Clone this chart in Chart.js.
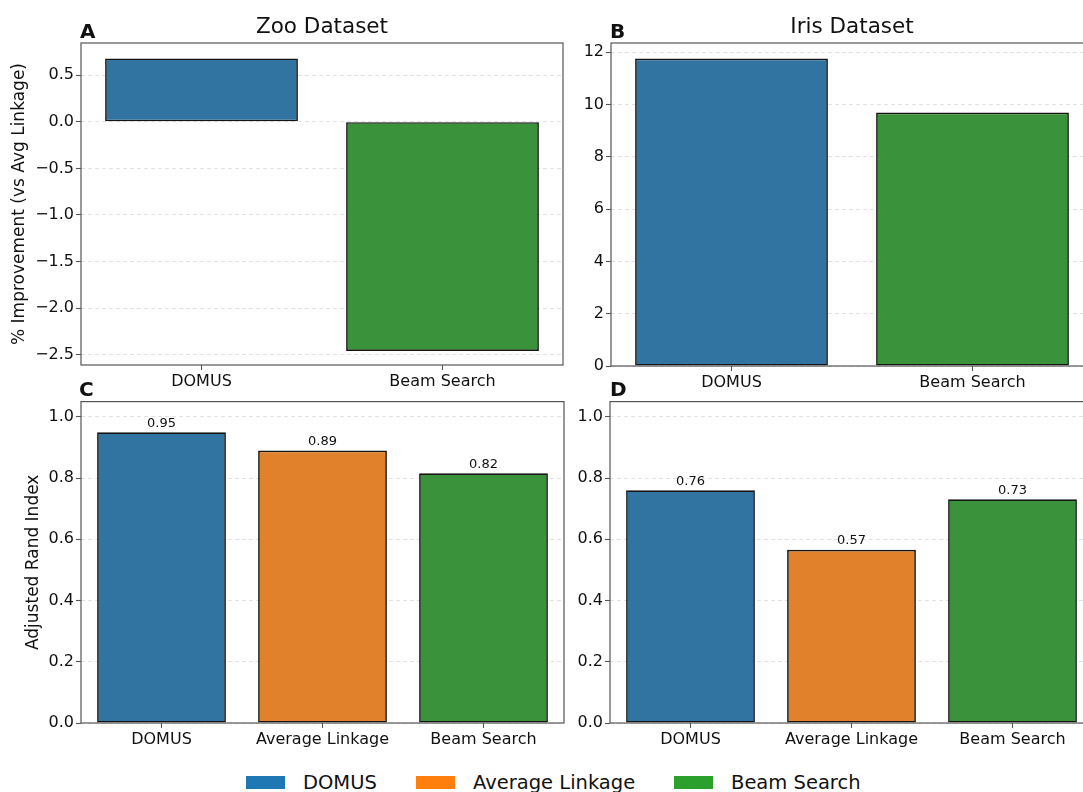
<!DOCTYPE html>
<html>
<head>
<meta charset="utf-8">
<script src="https://cdn.jsdelivr.net/npm/chart.js@4.4.1/dist/chart.umd.min.js"></script>
<style>
  html, body { margin: 0; padding: 0; background: #fff; }
  #fig { position: relative; width: 1083px; height: 792px; overflow: hidden; font-family: 'DejaVu Sans', sans-serif; color: #111; }
  #fig canvas { position: absolute; }
  .txt { position: absolute; line-height: 1; white-space: nowrap; }
  .letter { font-weight: bold; font-size: 20px; }
  .title { font-size: 21.5px; transform: translateX(-50%); }
  .swatch { position: absolute; width: 39px; height: 13px; }
  .leg { font-size: 19.5px; }
</style>
</head>
<body>
<div id="fig">
  <canvas id="chartA" width="580" height="390" style="left:0;top:0"></canvas>
  <canvas id="chartB" width="560" height="390" style="left:560px;top:0"></canvas>
  <canvas id="chartC" width="580" height="370" style="left:0;top:390px"></canvas>
  <canvas id="chartD" width="560" height="370" style="left:560px;top:390px"></canvas>

  <div class="txt letter" style="left:80px;top:21px">A</div>
  <div class="txt letter" style="left:610px;top:21px">B</div>
  <div class="txt letter" style="left:79px;top:379px">C</div>
  <div class="txt letter" style="left:610px;top:379px">D</div>
  <div class="txt title" style="left:322px;top:15px">Zoo Dataset</div>
  <div class="txt title" style="left:852px;top:15px">Iris Dataset</div>

  <div id="legend"></div>
</div>
<script>
// panel A/B: % improvement vs average linkage
const improvementMethods = ['DOMUS', 'Beam Search'];
const zooImprovement = [0.68, -2.46];
const irisImprovement = [11.76, 9.69];

// panel C/D: adjusted rand index
const ariMethods = ['DOMUS', 'Average Linkage', 'Beam Search'];
const zooAri = [0.95, 0.89, 0.816];
const irisAri = [0.76, 0.566, 0.731];

// y ticks and limits
const zooImpTicks = [-2.5, -2.0, -1.5, -1.0, -0.5, 0.0, 0.5];
const zooImpRange = [-2.61, 0.845];
const irisImpTicks = [0, 2, 4, 6, 8, 10, 12];
const irisImpRange = [0, 12.35];
const ariTicks = [0.0, 0.2, 0.4, 0.6, 0.8, 1.0];
const ariRange = [0, 1.05];

const barColors = { 'DOMUS': '#3274a1', 'Average Linkage': '#e1812c', 'Beam Search': '#3a923a' };
const legendColors = { 'DOMUS': '#1f77b4', 'Average Linkage': '#ff7f0e', 'Beam Search': '#2ca02c' };

Chart.defaults.font.family = "'DejaVu Sans', sans-serif";
Chart.defaults.color = '#111';

const frame = {
    id: 'frame',
    afterDraw(chart) {
        const { ctx, chartArea: a } = chart;
        ctx.save();
        ctx.strokeStyle = '#555';
        ctx.lineWidth = 1.2;
        ctx.strokeRect(a.left, a.top, a.right - a.left, a.bottom - a.top);
        ctx.restore();
    }
};

// numbers above the bars (panels C and D)
const valueLabels = {
    id: 'valueLabels',
    afterDatasetsDraw(chart) {
        const { ctx } = chart;
        const vals = chart.data.datasets[0].data;
        ctx.save();
        ctx.font = "13px 'DejaVu Sans'";
        ctx.fillStyle = '#111';
        ctx.textAlign = 'center';
        ctx.textBaseline = 'alphabetic';
        chart.getDatasetMeta(0).data.forEach((bar, i) => {
            ctx.fillText(vals[i].toFixed(2), bar.x, bar.y - 5.5);
        });
        ctx.restore();
    }
};

function fmt(v, dec) {
    return (v < -1e-9 ? '\u2212' : '') + Math.abs(v).toFixed(dec);
}

function barChart(id, labels, values, ticks, range, opts) {
    return new Chart(document.getElementById(id), {
        type: 'bar',
        data: {
            labels: labels,
            datasets: [{
                data: values,
                backgroundColor: labels.map((l) => barColors[l]),
                borderColor: '#151515',
                borderWidth: 1.7,
                borderSkipped: false,
                barPercentage: 0.8,
                categoryPercentage: 1,
            }],
        },
        options: {
            responsive: false,
            animation: false,
            devicePixelRatio: 1,
            layout: { padding: { left: 0, top: opts.top, right: opts.right, bottom: 0 } },
            plugins: { legend: { display: false }, tooltip: { enabled: false } },
            scales: {
                x: {
                    offset: true,
                    grid: { offset: false, drawOnChartArea: false, tickLength: 5, tickColor: '#555', tickWidth: 1.1 },
                    border: { display: false },
                    ticks: { font: { size: 16 }, color: '#111', padding: 2, maxRotation: 0, autoSkip: false },
                    afterFit: (s) => { s.height = opts.xh; },
                },
                y: {
                    min: range[0],
                    max: range[1],
                    afterBuildTicks: (s) => { s.ticks = ticks.map((v) => ({ value: v })); },
                    grid: { color: 'rgba(0,0,0,0.15)', lineWidth: 0.8, tickLength: 5, tickColor: '#555', tickWidth: 1.1 },
                    border: { display: false, dash: [4, 3] },
                    ticks: { font: { size: 16 }, color: '#111', padding: 2, callback: (v) => fmt(v, opts.dec) },
                    title: opts.ytitle
                        ? { display: true, text: opts.ytitle, font: { size: 17 }, color: '#111', padding: { top: opts.tpad, bottom: 0 } }
                        : { display: false },
                    afterFit: (s) => { s.width = opts.yw; },
                },
            },
        },
        plugins: opts.values ? [frame, valueLabels] : [frame],
    });
}

barChart('chartA', improvementMethods, zooImprovement, zooImpTicks, zooImpRange,
    { top: 43, right: 17, xh: 25, yw: 81, dec: 1, ytitle: '% Improvement (vs Avg Linkage)', tpad: 9 });
barChart('chartB', improvementMethods, irisImprovement, irisImpTicks, irisImpRange,
    { top: 43, right: 27, xh: 24, yw: 51, dec: 0 });
barChart('chartC', ariMethods, zooAri, ariTicks, ariRange,
    { top: 11, right: 16, xh: 37, yw: 81, dec: 1, ytitle: 'Adjusted Rand Index', tpad: 23, values: true });
barChart('chartD', ariMethods, irisAri, ariTicks, ariRange,
    { top: 11, right: 27, xh: 37, yw: 50, dec: 1, values: true });

// shared legend at the bottom
const legendX = [246, 416, 674];
const legend = document.getElementById('legend');
ariMethods.forEach((name, i) => {
    const sw = document.createElement('div');
    sw.className = 'swatch';
    sw.style.left = legendX[i] + 'px';
    sw.style.top = '776px';
    sw.style.background = legendColors[name];
    legend.appendChild(sw);
    const t = document.createElement('div');
    t.className = 'txt leg';
    t.style.left = (legendX[i] + 57) + 'px';
    t.style.top = '773px';
    t.textContent = name;
    legend.appendChild(t);
});
</script>
</body>
</html>
